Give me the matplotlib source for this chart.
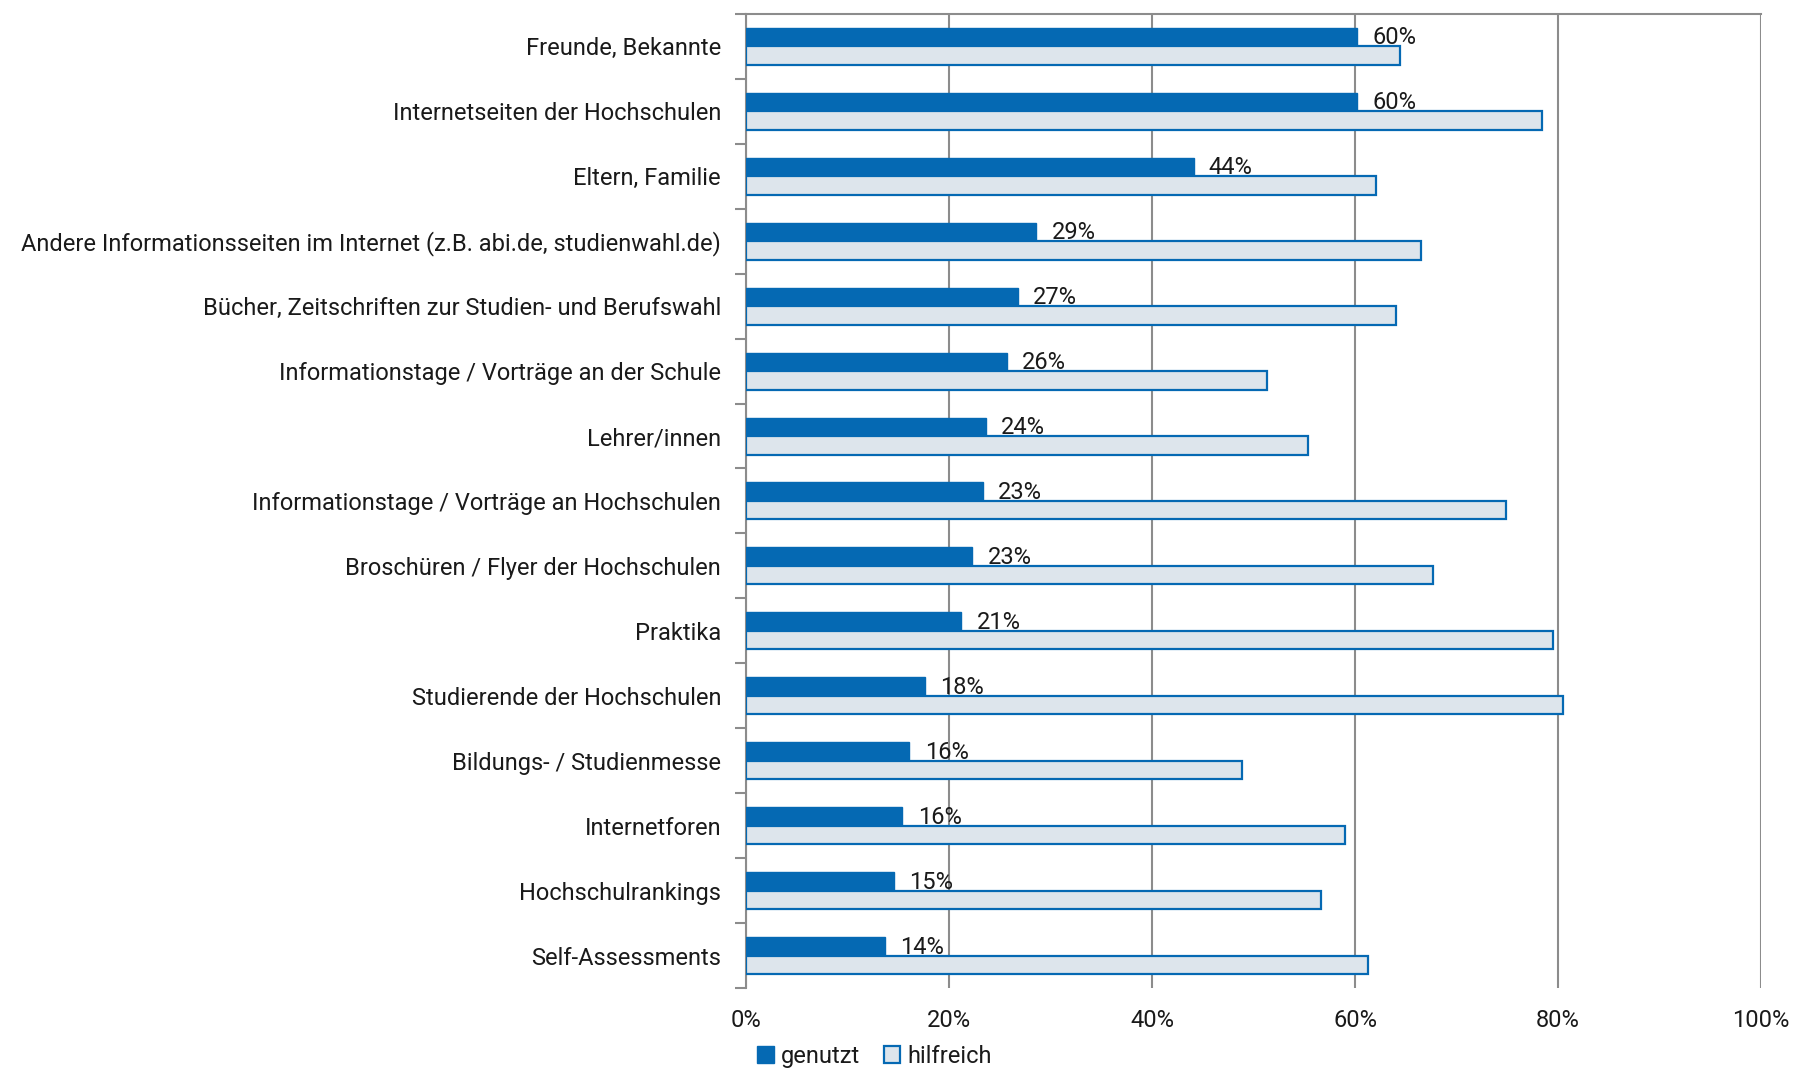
import numpy as np
import matplotlib
matplotlib.use('Agg')
import matplotlib.pyplot as plt
from matplotlib.patches import Patch

plt.rcParams['font.family'] = ['Roboto', 'DejaVu Sans']
plt.rcParams['font.weight'] = 'normal'

categories = [
    'Freunde, Bekannte',
    'Internetseiten der Hochschulen',
    'Eltern, Familie',
    'Andere Informationsseiten im Internet (z.B. abi.de, studienwahl.de)',
    'Bücher, Zeitschriften zur Studien- und Berufswahl',
    'Informationstage / Vorträge an der Schule',
    'Lehrer/innen',
    'Informationstage / Vorträge an Hochschulen',
    'Broschüren / Flyer der Hochschulen',
    'Praktika',
    'Studierende der Hochschulen',
    'Bildungs- / Studienmesse',
    'Internetforen',
    'Hochschulrankings',
    'Self-Assessments',
]
genutzt = [60.2, 60.2, 44.1, 28.6, 26.8, 25.7, 23.6, 23.3, 22.3, 21.2, 17.6, 16.1, 15.4, 14.6, 13.7]
genutzt_labels = ['60%', '60%', '44%', '29%', '27%', '26%', '24%', '23%', '23%', '21%', '18%', '16%', '16%', '15%', '14%']
hilfreich = [64.4, 78.4, 62.1, 66.5, 64.0, 51.3, 55.4, 74.9, 67.7, 79.5, 80.5, 48.9, 59.0, 56.6, 61.3]

dark = '#0569b3'
light = '#dde5ec'
grid_col = '#8c8c8c'
txt = '#1a1a1a'
fs = 17

fig = plt.figure(figsize=(18.17, 10.71), dpi=100)
ax = fig.add_axes([0.4106, 0.0775, 0.5586, 0.9095])

y = np.arange(len(categories))
h = 0.285
ax.barh(y - h / 2, genutzt, height=h, color=dark, edgecolor=dark, linewidth=1, zorder=3)
ax.barh(y + h / 2, hilfreich, height=h, color=light, edgecolor=dark, linewidth=1.6, zorder=3)

for yi, v, lab in zip(y, genutzt, genutzt_labels):
    ax.text(v + 1.5, yi - 0.13, lab, va='center', ha='left', fontsize=fs,
            color=txt, zorder=4)

ax.set_xlim(0, 100)
ax.set_ylim(len(categories) - 0.5, -0.5)
ax.set_xticks(np.arange(0, 101, 20))
ax.set_xticklabels([f'{t}%' for t in range(0, 101, 20)], fontsize=fs, color=txt)
ax.tick_params(axis='x', length=0, pad=15)

ax.set_yticks(y)
ax.set_yticklabels(categories, fontsize=fs, color=txt)
ax.set_yticks(np.arange(-0.5, len(categories), 1), minor=True)
ax.tick_params(axis='y', which='major', length=0, pad=18)
ax.tick_params(axis='y', which='minor', length=8, width=1.5, color=grid_col)

ax.grid(axis='x', color=grid_col, linewidth=1.5, zorder=0)
for s in ['right', 'bottom']:
    ax.spines[s].set_visible(False)
for s in ['left', 'top']:
    ax.spines[s].set_color(grid_col)
    ax.spines[s].set_linewidth(1.5)

handles = [Patch(facecolor=dark, edgecolor=dark, label='genutzt'),
           Patch(facecolor=light, edgecolor=dark, linewidth=1.6, label='hilfreich')]
leg = fig.legend(handles=handles, loc='lower left', bbox_to_anchor=(0.405, -0.017), ncol=2,
                 frameon=False, fontsize=fs, handlelength=0.7, handleheight=0.7,
                 handletextpad=0.3, columnspacing=1.0)
for t in leg.get_texts():
    t.set_color(txt)

fig.savefig('out.png', dpi=100)
